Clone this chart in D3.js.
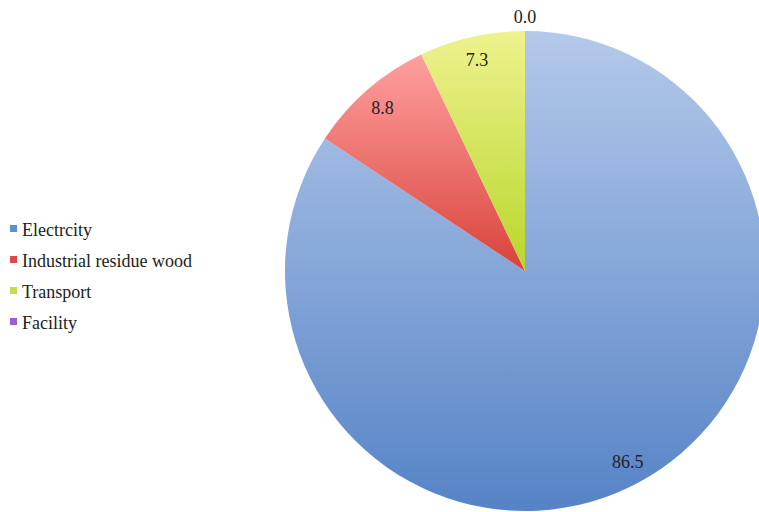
<!DOCTYPE html>
<html><head><meta charset="utf-8">
<script src="https://cdn.jsdelivr.net/npm/d3@7"></script>
<style>body{margin:0;background:#fff}svg{display:block}</style>
</head><body>
<svg id="chart" width="759" height="512"></svg>
<script>
const categories = ["Electrcity", "Industrial residue wood", "Transport", "Facility"];
const values = [86.5, 8.8, 7.3, 0.0];
const labels = ["86.5", "8.8", "7.3", "0.0"];
const colorTop = ["#b4c9eb", "#ffa0a0", "#eef28e", "#c9a6ea"];
const colorBottom = ["#5683c6", "#d8433a", "#b9d62a", "#8c52c6"];
const legendColors = ["#5b8fd4", "#e0474a", "#c6dc4a", "#9a5fd0"];
const fontStack = "'Liberation Serif', 'DejaVu Serif', 'Noto Serif', Tinos, serif";

const svg = d3.select("#chart");
const cx = 525, cy = 271, R = 240;
const defs = svg.append("defs");
categories.forEach((c, i) => {
  const g = defs.append("linearGradient").attr("id", "g" + i)
    .attr("x1", 0).attr("y1", 0).attr("x2", 0).attr("y2", 1);
  g.append("stop").attr("offset", "0%").attr("stop-color", colorTop[i]);
  g.append("stop").attr("offset", "100%").attr("stop-color", colorBottom[i]);
});

const data = categories.map((c, i) => ({cat: c, value: values[i], label: labels[i], i}));
const pie = d3.pie().sort(null).value(d => d.value);
const arcs = pie(data);
const arc = d3.arc().innerRadius(0).outerRadius(R);
const labelArc = d3.arc().innerRadius(217).outerRadius(217);
const outArc = d3.arc().innerRadius(254).outerRadius(254);

const g = svg.append("g").attr("transform", `translate(${cx},${cy})`);
g.selectAll("path").data(arcs).enter().append("path")
  .attr("d", arc).attr("fill", d => `url(#g${d.data.i})`);

g.selectAll("text").data(arcs).enter().append("text")
  .attr("transform", d => `translate(${(d.value > 0 ? labelArc : outArc).centroid(d)})`)
  .attr("text-anchor", "middle").attr("dy", "0.35em")
  .style("font-family", fontStack)
  .attr("font-size", 18).attr("fill", "#222")
  .text(d => d.data.label);

const lg = svg.append("g");
const ly = d3.scalePoint().domain(categories).range([230, 323]);
const item = lg.selectAll("g").data(categories).enter().append("g")
  .attr("transform", d => `translate(0,${ly(d)})`);
item.append("rect").attr("x", 10).attr("y", -5).attr("width", 7).attr("height", 7)
  .attr("fill", (d, i) => legendColors[i]);
item.append("text").attr("x", 22).attr("y", 0).attr("dy", "0.35em")
  .style("font-family", fontStack)
  .attr("font-size", 18).attr("fill", "#222").text(d => d);
</script>
</body></html>
